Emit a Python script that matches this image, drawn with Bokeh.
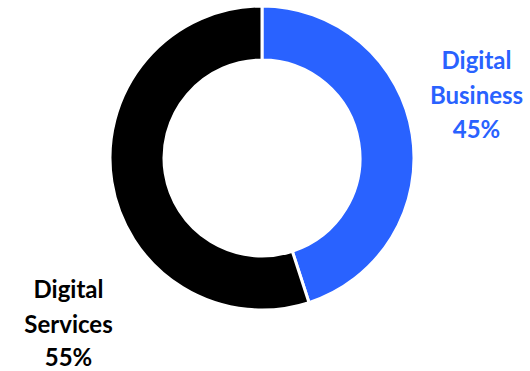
import numpy as np
from bokeh.plotting import figure
from bokeh.models import Range1d
from bokeh.core.properties import value
from bokeh.embed import file_html
from bokeh.resources import INLINE

categories = ["Digital Business", "Digital Services"]
shares = [45, 55]
colors = ["#2962ff", "#000000"]
label_lines = [["Digital", "Business", "45%"], ["Digital", "Services", "55%"]]

W, H = 530, 371
p = figure(width=W, height=H, output_backend="svg", toolbar_location=None,
           x_range=Range1d(0, W), y_range=Range1d(0, H), min_border=0)
p.axis.visible = False
p.grid.visible = False
p.outline_line_color = None
p.background_fill_color = "white"
p.border_fill_color = "white"

cx, cy = 261.5, H - 157.5
vals = np.array(shares, dtype=float)
fr = vals / vals.sum()
ends_cum = np.cumsum(fr)
starts_cum = ends_cum - fr
start = np.pi / 2 - starts_cum * 2 * np.pi
end = np.pi / 2 - ends_cum * 2 * np.pi

p.annular_wedge(x=cx, y=cy, inner_radius=98, outer_radius=152,
                start_angle=start, end_angle=end, direction="clock",
                fill_color=colors, line_color="white", line_width=3)

label_pos = [(476, [59, 94, 128]), (68, [288, 323, 356])]
for (lx, ys), lines, col in zip(label_pos, label_lines, colors):
    p.text(x=[lx] * len(lines), y=[H - y for y in ys], text=lines,
           text_font=value("Lato"), text_font_style="bold", text_font_size="24px",
           text_color=col, text_align="center", text_baseline="middle")

open("out.html", "w").write(file_html(p, INLINE))
